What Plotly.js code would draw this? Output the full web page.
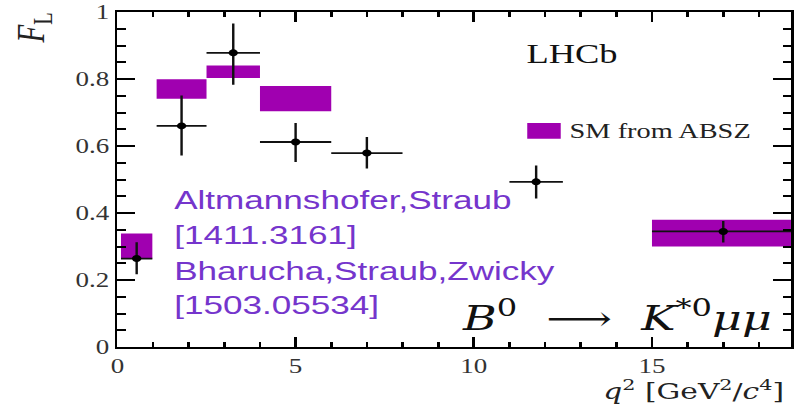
<!DOCTYPE html>
<html>
<head>
<meta charset="utf-8">
<script src="https://cdn.plot.ly/plotly-3.0.1.min.js"></script>
<style>
html, body { margin:0; padding:0; overflow:hidden; width:795px; height:413px; background:#fff; }
#plot { width:589px; height:413px; transform: scale(1.34975, 1); transform-origin: 0 0; }
</style>
</head>
<body>
<div id="plot"></div>
<script>
// LHCb measurement of F_L in q^2 bins
const binLo = [0.1, 1.1, 2.5, 4.0, 6.0, 11.0, 15.0];
const binHi = [0.98, 2.5, 4.0, 6.0, 8.0, 12.5, 19.0];
const flValue = [0.264, 0.660, 0.878, 0.612, 0.579, 0.493, 0.345];
const flErrUp = [0.049, 0.091, 0.088, 0.057, 0.048, 0.049, 0.031];
const flErrDn = [0.047, 0.088, 0.095, 0.060, 0.046, 0.050, 0.033];

// SM prediction (ABSZ) bands
const smLo = [0.1, 1.1, 2.5, 4.0, 15.0];
const smHi = [0.98, 2.5, 4.0, 6.0, 19.0];
const smMin = [0.264, 0.741, 0.803, 0.704, 0.300];
const smMax = [0.339, 0.799, 0.840, 0.779, 0.380];

const yTickVals = [0, 0.2, 0.4, 0.6, 0.8, 1];
const yTickText = ['0', '0.2', '0.4', '0.6', '0.8', '1'];
const xTickVals = [0, 5, 10, 15];
const xTickText = ['0', '5', '10', '15'];

const SMCOL = '#a000b0';
const PURPLE = '#7535cc';
const SERIF = 'Liberation Serif, Times New Roman, serif';
const MATH = 'DejaVu Serif, Liberation Serif, serif';
const SANS = 'Liberation Sans, Arial, sans-serif';
const NB = '\u00a0';

const smTrace = {
  type: 'bar',
  x: smLo.map((l, i) => (l + smHi[i]) / 2),
  width: smLo.map((l, i) => smHi[i] - l),
  base: smMin,
  y: smMax.map((v, i) => v - smMin[i]),
  marker: { color: SMCOL, line: { width: 0 } },
  name: 'SM from ABSZ',
  showlegend: false,
  hoverinfo: 'skip'
};

const dataTrace = {
  type: 'scatter',
  mode: 'markers',
  x: binLo.map((l, i) => (l + binHi[i]) / 2),
  y: flValue,
  marker: { color: '#000', size: 7 },
  error_x: { type: 'data', array: binLo.map((l, i) => (binHi[i] - l) / 2), width: 0, thickness: 1.8, color: '#111' },
  error_y: { type: 'data', symmetric: false, array: flErrUp, arrayminus: flErrDn, width: 0, thickness: 1.8, color: '#111' },
  showlegend: false,
  hoverinfo: 'skip'
};

const layout = {
  width: 589, height: 413,
  margin: { l: 87, r: 3, t: 12, b: 66 },
  paper_bgcolor: '#fff', plot_bgcolor: '#fff',
  barmode: 'overlay',
  showlegend: false,
  xaxis: {
    range: [0, 18.9], showgrid: false, zeroline: false,
    showline: true, linecolor: '#000', linewidth: 2, mirror: 'allticks',
    ticks: 'inside', ticklen: 10, tickwidth: 2, tickcolor: '#000',
    tickvals: xTickVals, ticktext: xTickText,
    tickfont: { family: SERIF, size: 20, color: '#333' },
    minor: { ticks: 'inside', dtick: 1, ticklen: 5, tickwidth: 2, tickcolor: '#000', showgrid: false }
  },
  yaxis: {
    range: [0, 1], showgrid: false, zeroline: false,
    showline: true, linecolor: '#000', linewidth: 2, mirror: 'allticks',
    ticks: 'inside', ticklen: 13, tickwidth: 2, tickcolor: '#000',
    tickvals: yTickVals, ticktext: yTickText,
    tickfont: { family: SERIF, size: 20, color: '#333' },
    minor: { ticks: 'inside', dtick: 0.05, ticklen: 6, tickwidth: 2, tickcolor: '#000', showgrid: false }
  },
  shapes: [
    { type: 'rect', xref: 'x', yref: 'y', x0: 11.50, x1: 12.44, y0: 0.622, y1: 0.669, fillcolor: SMCOL, line: { width: 0 } }
  ],
  annotations: [
    { text: 'LHCb', xref: 'x', yref: 'y', x: 12.78, y: 0.874, showarrow: false, xanchor: 'center', yanchor: 'middle',
      font: { family: SERIF, size: 27, color: '#111' } },
    { text: 'SM from ABSZ', xref: 'x', yref: 'y', x: 12.62, y: 0.644, showarrow: false, xanchor: 'left', yanchor: 'middle',
      font: { family: SERIF, size: 21, color: '#222' } },
    { text: 'Altmannshofer,Straub', xref: 'x', yref: 'y', x: 1.52, y: 0.438, showarrow: false, xanchor: 'left', yanchor: 'middle',
      font: { family: SANS, size: 26, color: PURPLE } },
    { text: '[1411.3161]', xref: 'x', yref: 'y', x: 1.52, y: 0.333, showarrow: false, xanchor: 'left', yanchor: 'middle',
      font: { family: SANS, size: 26, color: PURPLE } },
    { text: 'Bharucha,Straub,Zwicky', xref: 'x', yref: 'y', x: 1.52, y: 0.226, showarrow: false, xanchor: 'left', yanchor: 'middle',
      font: { family: SANS, size: 26, color: PURPLE } },
    { text: '[1503.05534]', xref: 'x', yref: 'y', x: 1.52, y: 0.124, showarrow: false, xanchor: 'left', yanchor: 'middle',
      font: { family: SANS, size: 26, color: PURPLE } },
    { text: '<i>B</i><sup>0</sup>' + NB + NB + '⟶' + NB + NB + '<i>K</i><sup>*0</sup><i>μμ</i>', xref: 'x', yref: 'y', x: 18.44, y: 0.092, showarrow: false,
      xanchor: 'right', yanchor: 'middle', font: { family: MATH, size: 34, color: '#111' } },
    { text: '<i>q</i><sup>2</sup>' + NB + '[GeV<sup>2</sup>/<i>c</i><sup>4</sup>]', xref: 'x', yref: 'paper', x: 18.78, y: -0.129, showarrow: false,
      xanchor: 'right', yanchor: 'middle', font: { family: MATH, size: 22, color: '#222' } },
    { text: '<i>F</i><sub>L</sub>', xref: 'paper', yref: 'paper', x: -0.124, y: 0.951, showarrow: false, textangle: -90,
      xanchor: 'center', yanchor: 'middle', font: { family: SERIF, size: 29, color: '#222' } }
  ]
};

Plotly.newPlot('plot', [smTrace, dataTrace], layout, { displayModeBar: false, staticPlot: true });
</script>
</body>
</html>
